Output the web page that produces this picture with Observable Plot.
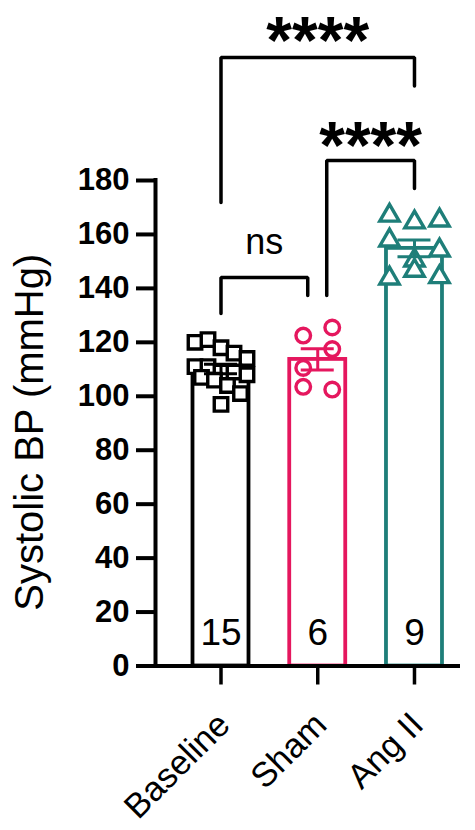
<!DOCTYPE html>
<html>
<head>
<meta charset="utf-8">
<script src="https://cdn.jsdelivr.net/npm/d3@7"></script>
<script src="https://cdn.jsdelivr.net/npm/@observablehq/plot@0.6"></script>
<style>
  html, body { margin: 0; padding: 0; background: #fff; }
  #chart svg { display: block; }
  g[aria-label="y-axis tick label"] { font-weight: bold; }
</style>
</head>
<body>
<div id="chart"></div>
<script>
// ---------- data ----------
const groups = ["Baseline", "Sham", "Ang II"];
const baseline = [120, 121, 118, 116, 114, 111, 111, 109, 109, 108, 107, 106, 104, 101, 97];
const sham = [122.5, 125.5, 110.5, 117.5, 103.5, 102.5];
const angII = [167, 164.5, 165.2, 157.8, 150.4, 154.1, 143.7, 146.6, 144.2];
const yTicks = [0, 20, 40, 60, 80, 100, 120, 140, 160, 180];
const yTitle = "Systolic BP (mmHg)";
const comparisons = [
  {a: "Baseline", b: "Sham", label: "ns"},
  {a: "Sham", b: "Ang II", label: "****"},
  {a: "Baseline", b: "Ang II", label: "****"}
];

// ---------- styling / layout ----------
const W = 475, H = 830;
const mL = 155, mR = 17, mT = 180, mB = 164.5;
const xDomain = [-0.677, 2.455];
const pxPerUnit = (W - mL - mR) / (xDomain[1] - xDomain[0]);
const px = p => p / pxPerUnit;
const colors = ["#000000", "#E5175E", "#1E7E79"];
const symbols = ["square", "circle", "triangle"];
const radii = [7.6, 7.3, 7.2];
const layout = [ // points per row, row bin (mmHg), spacing (px)
  {cap: 5, bin: 8, spacing: 13},
  {cap: 2, bin: 8, spacing: 29},
  {cap: 3, bin: 8, spacing: 25}
];
const bracketGeom = [ // y in mmHg units, horizontal end offsets in px
  {top: 144, yA: 130.7, yB: 137.4, offA: 0, offB: -10, labelY: 152.9, size: 36, weight: "normal"},
  {top: 187.4, yA: 137.4, yB: 177, offA: 9, offB: 0, labelY: 184.6, size: 66, weight: "bold"},
  {top: 225.6, yA: 171.8, yB: 215, offA: 0, offB: 0, labelY: 223.4, size: 66, weight: "bold"}
];
const FONT = "'Liberation Sans', Arial, Helvetica, sans-serif";

// ---------- derived ----------
const series = [baseline, sham, angII];
function rowOffsets(values, {cap, bin, spacing}) {
  const idx = d3.range(values.length).sort((a, b) => values[b] - values[a] || a - b);
  const rows = []; let cur = [];
  for (const i of idx) {
    if (cur.length && (cur.length >= cap || values[cur[0]] - values[i] > bin)) { rows.push(cur); cur = []; }
    cur.push(i);
  }
  if (cur.length) rows.push(cur);
  const off = new Array(values.length);
  for (const r of rows) {
    r.sort((a, b) => a - b);
    r.forEach((i, k) => off[i] = px((k - (r.length - 1) / 2) * spacing));
  }
  return off;
}
const stats = series.map((v, i) => {
  const mean = d3.mean(v);
  const sem = d3.deviation(v) / Math.sqrt(v.length);
  return {i, group: groups[i], mean, sem, n: v.length, color: colors[i]};
});
const points = series.flatMap((v, gi) => {
  const off = rowOffsets(v, layout[gi]);
  return v.map((value, k) => ({gi, value, x: gi + off[k]}));
});
const halfBar = px(28);
const halfCap = px(16.5);

const brackets = comparisons.flatMap((c, k) => {
  const g = bracketGeom[k];
  const xa = groups.indexOf(c.a) + px(g.offA);
  const xb = groups.indexOf(c.b) + px(g.offB);
  return [
    {k, x: xa, y: g.yA}, {k, x: xa, y: g.top},
    {k, x: xb, y: g.top}, {k, x: xb, y: g.yB}
  ];
});
const labels = comparisons.map((c, k) => {
  const g = bracketGeom[k];
  const xa = groups.indexOf(c.a) + px(g.offA);
  const xb = groups.indexOf(c.b) + px(g.offB);
  return {x: (xa + xb) / 2, y: g.labelY, text: c.label, size: g.size, weight: g.weight};
});

const chart = Plot.plot({
  width: W, height: H,
  marginLeft: mL, marginRight: mR, marginTop: mT, marginBottom: mB,
  style: {fontFamily: FONT, background: "#fff", overflow: "visible", color: "#000"},
  x: {domain: xDomain, axis: null},
  y: {domain: [0, 180], axis: null},
  marks: [
    // bars (mean)
    Plot.rectY(stats, {x1: d => d.i - halfBar, x2: d => d.i + halfBar, y1: 0, y2: "mean",
      fill: "#fff", stroke: d => d.color, strokeWidth: 3.8}),
    // points
    ...[0, 1, 2].map(gi => Plot.dot(points.filter(p => p.gi === gi), {
      x: "x", y: "value", symbol: () => symbols[gi], r: radii[gi],
      fill: "#fff", stroke: colors[gi], strokeWidth: 3.4})),
    // SEM error bars
    Plot.ruleX(stats, {x: "i", y1: d => d.mean - d.sem, y2: d => d.mean + d.sem, stroke: d => d.color, strokeWidth: 3}),
    Plot.ruleY(stats, {y: d => d.mean + d.sem, x1: d => d.i - halfCap, x2: d => d.i + halfCap, stroke: d => d.color, strokeWidth: 3}),
    Plot.ruleY(stats, {y: d => d.mean - d.sem, x1: d => d.i - halfCap, x2: d => d.i + halfCap, stroke: d => d.color, strokeWidth: 3}),
    // n labels
    Plot.text(stats, {x: "i", y: 0, text: d => String(d.n), dy: -33, lineAnchor: "middle",
      fontSize: 37, fill: "#000"}),
    // axes
    Plot.axisY({ticks: yTicks, tickSize: 19, tickPadding: 7, strokeWidth: 4, fontSize: 31, fontWeight: "bold", tickFormat: d => String(d)}),
    Plot.axisX({ticks: [0, 1, 2], tickSize: 19, strokeWidth: 3.5, tickFormat: () => ""}),
    Plot.text(groups, {x: (d, i) => i, y: 0, text: d => d, rotate: -45, textAnchor: "end",
      lineAnchor: "middle", dx: 3, dy: 53, fontSize: 34.5, fill: "#000"}),
    Plot.ruleX([xDomain[0]], {y1: 0, y2: 180, strokeWidth: 4, strokeLinecap: "square"}),
    Plot.ruleY([0], {strokeWidth: 4, strokeLinecap: "square"}),
    Plot.text([yTitle], {frameAnchor: "left", text: d => d, rotate: -90, dx: -125, dy: 9,
      lineAnchor: "middle", textAnchor: "middle", fontSize: 40, fill: "#000"}),
    // significance brackets
    Plot.line(brackets, {x: "x", y: "y", z: "k", stroke: "#000", strokeWidth: 3.5, strokeLinejoin: "miter"}),
    ...labels.map(l => Plot.text([l], {x: "x", y: "y", text: "text", lineAnchor: "bottom",
      fontSize: l.size, fontWeight: l.weight, fill: "#000"}))
  ]
});
document.getElementById("chart").appendChild(chart);
</script>
</body>
</html>
